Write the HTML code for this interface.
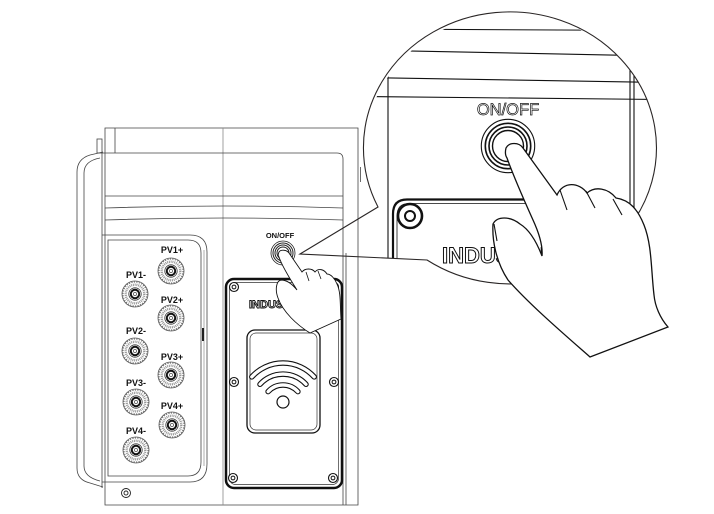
<!DOCTYPE html>
<html><head><meta charset="utf-8"><style>html,body{margin:0;padding:0;background:#fff}svg{display:block}</style></head>
<body>
<svg width="714" height="514" viewBox="0 0 714 514" xmlns="http://www.w3.org/2000/svg">
<defs>
<g id="conn">
<circle r="13" fill="#fff" stroke="#555" stroke-width="0.8"/>
<circle r="12" fill="none" stroke="#777" stroke-width="1.2" stroke-dasharray="1.2 1.3"/>
<circle r="9.3" fill="none" stroke="#999" stroke-width="2.4" stroke-dasharray="1 0.8"/>
<circle r="6.2" fill="#fff" stroke="#333" stroke-width="0.8"/>
<circle r="4.2" fill="none" stroke="#111" stroke-width="2"/>
<circle r="1.6" fill="#fff" stroke="#333" stroke-width="0.6"/>
</g>
<g id="scr">
<circle r="4.5" fill="#fff" stroke="#111" stroke-width="1.1"/>
<circle r="1.9" fill="none" stroke="#111" stroke-width="1"/>
</g>
<clipPath id="mag">
<ellipse cx="511.5" cy="150" rx="146.5" ry="136"/>
<polygon points="300,254 378,207 427,260"/>
</clipPath>
</defs>
<rect width="714" height="514" fill="#fff"/>

<!-- small device -->
<g fill="none" stroke="#444" stroke-width="0.8">
<path d="M105,128 H358 V505 H105 Z"/>
<line x1="223" y1="128" x2="223" y2="505" stroke="#888"/>
<line x1="115" y1="128" x2="115" y2="153"/>
<path d="M102,153 H337 Q343,153 343,159 V505"/>
<line x1="346" y1="253" x2="346" y2="505"/>
<line x1="360.5" y1="167" x2="360.5" y2="182"/>
<line x1="105" y1="196" x2="343" y2="196"/>
<path d="M105,208 Q224,204 343,208"/>
<path d="M105,220 Q224,216 343,220"/>
<line x1="102" y1="153" x2="102" y2="488"/>
<path d="M102,235 H190 Q207,235 207,252 V464 Q207,482 190,482 H102"/>
<path d="M108,240 H188 Q201,240 201,253 V462 Q201,476 188,476 H108 Z"/>
<line x1="204" y1="250" x2="204" y2="466" stroke="#999"/>
<path d="M103,152 L90,155 Q77,159 77,172 L77,468 Q77,480 90,483 L103,487"/>
<path d="M100,158 Q84,161 84,173 L84,466 Q84,477 100,481"/>
<rect x="97" y="139" width="5" height="14"/>
</g>
<line x1="203" y1="328" x2="203" y2="341" stroke="#222" stroke-width="2"/>
<g fill="none" stroke="#222" stroke-width="0.9">
<circle cx="126" cy="493" r="4.5"/><circle cx="126" cy="493" r="2"/>
</g>

<!-- PV connectors -->
<g font-family="Liberation Sans, sans-serif" font-weight="bold" font-size="9" text-anchor="middle" fill="#111">
<text x="172" y="253">PV1+</text>
<text x="136" y="278">PV1-</text>
<text x="172" y="303">PV2+</text>
<text x="136" y="334">PV2-</text>
<text x="172" y="360">PV3+</text>
<text x="136" y="386">PV3-</text>
<text x="172" y="409">PV4+</text>
<text x="136" y="434">PV4-</text>
</g>
<use href="#conn" x="171" y="271"/>
<use href="#conn" x="135" y="294"/>
<use href="#conn" x="171" y="318"/>
<use href="#conn" x="135" y="351"/>
<use href="#conn" x="171" y="375"/>
<use href="#conn" x="136" y="402"/>
<use href="#conn" x="172" y="425"/>
<use href="#conn" x="136" y="450"/>

<!-- small ON/OFF -->
<text x="280" y="238" font-family="Liberation Sans, sans-serif" font-weight="bold" font-size="7.5" text-anchor="middle" fill="#111">ON/OFF</text>
<g fill="none" stroke="#222">
<circle cx="283" cy="253" r="12" stroke-width="0.8"/>
<circle cx="283" cy="253" r="10" stroke-width="1"/>
<circle cx="283" cy="253" r="8" stroke-width="1"/>
<circle cx="283" cy="253" r="6" stroke-width="1"/>
</g>

<!-- small plate -->
<rect x="226" y="279" width="116" height="209" rx="8" fill="none" stroke="#111" stroke-width="2.5"/>
<rect x="229.5" y="282.5" width="109" height="202" rx="6" fill="none" stroke="#333" stroke-width="0.7"/>
<use href="#scr" x="234" y="287"/>
<use href="#scr" x="334" y="287"/>
<use href="#scr" x="234" y="382"/>
<use href="#scr" x="334" y="382"/>
<use href="#scr" x="233" y="478"/>
<use href="#scr" x="333" y="478"/>
<text x="249" y="308" font-family="Liberation Sans, sans-serif" font-weight="bold" font-size="11" fill="#fff" stroke="#111" stroke-width="0.9">INDUSTR</text>
<rect x="247" y="330" width="73" height="103" rx="8" fill="none" stroke="#111" stroke-width="1.3"/>
<rect x="250" y="333" width="67" height="97" rx="6" fill="none" stroke="#333" stroke-width="0.7"/>
<g fill="none" stroke-linecap="round">
<path d="M251.8,376.9 A42,42 0 0 1 314.2,376.9" stroke="#111" stroke-width="5.5"/>
<path d="M251.8,376.9 A42,42 0 0 1 314.2,376.9" stroke="#fff" stroke-width="3.3"/>
<path d="M260,384.3 A31,31 0 0 1 306,384.3" stroke="#111" stroke-width="5.5"/>
<path d="M260,384.3 A31,31 0 0 1 306,384.3" stroke="#fff" stroke-width="3.3"/>
<path d="M268.1,391.6 A20,20 0 0 1 297.9,391.6" stroke="#111" stroke-width="5.5"/>
<path d="M268.1,391.6 A20,20 0 0 1 297.9,391.6" stroke="#fff" stroke-width="3.3"/>
</g>
<circle cx="283" cy="402" r="6" fill="#fff" stroke="#111" stroke-width="1.2"/>

<!-- small hand -->
<path d="M279,257 C282,266 290,279 297,290 C293,285 287,280 281,280 C276,281 275,290 278,298 C283,312 297,325 310,333 L341,319 C340,305 341,292 337,284 C335,279 331,274 327,274 C324,269 318,268 315,272 C312,268 305,268 302,272 L289,253 C287,250 281,249 279,252 C278,254 278,256 279,257 Z" fill="#fff" stroke="#111" stroke-width="0.9"/>
<g stroke="#111" stroke-width="0.8" fill="none">
<path d="M306,272 L309,281"/><path d="M318,271 L321,279"/>
</g>

<!-- magnified content -->
<g clip-path="url(#mag)">
<ellipse cx="511.5" cy="150" rx="146.5" ry="136" fill="#fff"/>
<g fill="none" stroke="#111" stroke-width="1.1">
<path d="M360,29 L660,30.5"/>
<path d="M360,50 L660,56"/>
<path d="M360,77.5 L660,82.5"/>
<path d="M360,96.5 L660,99.5"/>
<line x1="388" y1="0" x2="388" y2="300"/>
<line x1="630" y1="0" x2="630" y2="300"/>
<line x1="634" y1="0" x2="634" y2="300"/>
</g>
<text x="508" y="115" font-family="Liberation Sans, sans-serif" font-size="16.5" text-anchor="middle" fill="#fff" stroke="#111" stroke-width="0.7">ON/OFF</text>
<g fill="none" stroke="#111">
<circle cx="508" cy="146" r="26.7" stroke-width="1.1"/>
<circle cx="508" cy="146" r="22.7" stroke-width="1.6"/>
<circle cx="508" cy="146" r="19" stroke-width="1.6"/>
<circle cx="508" cy="146" r="15.5" stroke-width="1.4"/>
</g>
<path d="M393,300 L393,214 Q393,199.5 407,199.5 L620,199.5" fill="none" stroke="#111" stroke-width="2.2"/>
<path d="M397,300 L397,216 Q397,203.5 409,203.5 L620,203.5" fill="none" stroke="#111" stroke-width="0.8"/>
<circle cx="410" cy="216" r="12" fill="#fff" stroke="#111" stroke-width="2.6"/>
<circle cx="410" cy="216" r="5" fill="none" stroke="#111" stroke-width="2"/>
<text x="442" y="263" font-family="Liberation Sans, sans-serif" font-weight="bold" font-size="22" fill="#fff" stroke="#111" stroke-width="1">INDUSTRIAL</text>
</g>
<path d="M300,254 L378,207 A146.5,136 0 1 1 427,260 L300,254 Z" fill="none" stroke="#2a2626" stroke-width="1.1"/>

<!-- big hand -->
<path d="M507,158 C512,172 524,200 533,220 C539,233 543,245 542,256 C537,243 530,230 520,224 C510,216 497,216 493,224 C492,240 496,262 508,280 C530,305 565,335 590,357 L668,327 C660,318 655,306 654,295 C651,270 652,245 644,225 C638,210 630,200 616,198 C608,188 595,186 587,193 C579,182 563,181 557,195 L523,148 C519,142 509,142 506,148 C505,152 505,155 507,158 Z" fill="#fff" stroke="#111" stroke-width="1.3"/>
<g stroke="#111" stroke-width="1.1" fill="none">
<path d="M560,190 L567,210"/>
<path d="M586,191 L595,208"/>
<path d="M613,199 L622,215"/>
<path d="M494,224 L497,241"/>
</g>
</svg>
</body></html>
